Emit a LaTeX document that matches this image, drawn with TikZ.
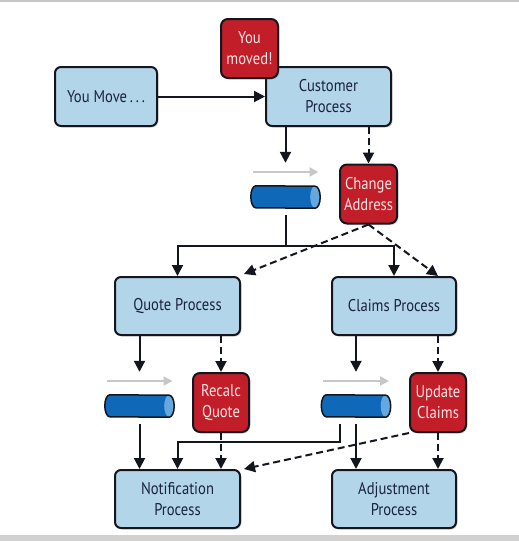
\documentclass[tikz,border=0pt]{standalone}
\usepackage{fontspec}
\setmainfont{PT Sans}[FakeStretch=0.86]
\usepackage{tikz}
\usetikzlibrary{shapes.geometric, arrows.meta, shadows}

\definecolor{boxblue}{RGB}{178,213,234}
\definecolor{boxred}{RGB}{194,30,42}
\definecolor{inkline}{RGB}{20,22,30}
\definecolor{textnavy}{RGB}{25,35,60}
\definecolor{textpink}{RGB}{255,228,228}
\definecolor{queueblue}{RGB}{16,104,184}
\definecolor{queueend}{RGB}{100,168,222}

\tikzstyle{process} = [rectangle, rounded corners=6pt, minimum width=125pt, minimum height=59pt, align=center, draw=inkline, line width=2pt, fill=boxblue, text=textnavy, font=\fontsize{17}{21}\selectfont, drop shadow={opacity=0.25, shadow xshift=1.5pt, shadow yshift=-1.5pt}]
\tikzstyle{event} = [rectangle, rounded corners=7pt, minimum width=57pt, minimum height=59pt, inner sep=1pt, align=center, draw=inkline, line width=2pt, fill=boxred, text=textpink, font=\fontsize{17}{21}\selectfont, drop shadow={opacity=0.25, shadow xshift=1.5pt, shadow yshift=-1.5pt}]
\tikzstyle{queue} = [rectangle, minimum width=69pt, minimum height=22pt, inner sep=0pt]
\tikzstyle{arrow} = [line width=2pt, draw=inkline, ->, >={Triangle[length=11pt,width=11pt]}]
\tikzstyle{dasharrow} = [arrow, dash pattern=on 7pt off 4pt]
\tikzstyle{flowarrow} = [line width=2pt, draw=black!22, ->, >={Triangle[length=9pt,width=9pt]}]

% queue body with an elliptical end cap
\newcommand{\drawqueue}[1]{%
  \fill[queueblue] ([xshift=5pt]#1.north west) arc (90:270:5pt and 11pt) -- ([xshift=-5pt]#1.south east) arc (-90:90:5pt and 11pt) -- cycle;
  \fill[queueend] ([xshift=-5pt]#1.east) ellipse (5pt and 11pt);
  \draw[inkline, line width=1.5pt] ([xshift=5pt]#1.north west) arc (90:270:5pt and 11pt) -- ([xshift=-5pt]#1.south east) arc (-90:90:5pt and 11pt) -- cycle;
}

\begin{document}
\begin{tikzpicture}[x=1pt, y=-1pt]
\useasboundingbox (0,0) rectangle (519,541);
\fill[black!22] (0,0) rectangle (519,2);
\fill[black!18] (0,535) rectangle (519,541);

\node (youmove) [process, minimum width=102pt] at (106,96.5) {You Move\,.\,.\,.};
\node (customer) [process] at (328.5,96.5) {Customer\\Process};
\node (youmoved) [event] at (249.5,48.5) {You\\moved!};
\node (change) [event] at (368.5,194) {Change\\Address};
\node (q0) [queue] at (285.5,197) {};

\node (quote) [process, minimum height=58pt] at (177.5,306) {Quote Process};
\node (claims) [process, minimum width=124pt, minimum height=58pt] at (394,306) {Claims Process};
\node (recalc) [event, minimum width=56pt] at (221,402.5) {Recalc\\Quote};
\node (update) [event, minimum width=56pt] at (438,402.5) {Update\\Claims};
\node (q1) [queue] at (139.5,406) {};
\node (q2) [queue] at (356,406) {};

\node (notif) [process, minimum height=58pt] at (177.5,499) {Notification\\Process};
\node (adjust) [process, minimum width=124pt, minimum height=58pt] at (394,499) {Adjustment\\Process};

\drawqueue{q0}
\drawqueue{q1}
\drawqueue{q2}

\coordinate (split0) at (285.5,246);

% top row
\draw [arrow] (youmove) -- (customer);
\draw [arrow] (customer.south -| q0) -- ([yshift=23pt]q0.north);
\draw [dasharrow] (customer.south -| change) -- (change.north);
\draw [flowarrow] ([xshift=-33pt,yshift=25pt]q0.center) -- ([xshift=33pt,yshift=25pt]q0.center);

% fan out
\draw [line width=2pt, draw=inkline] ([yshift=-7pt]q0.south) -- (split0);
\draw [arrow] (split0) -| (quote.north);
\draw [arrow] (split0) -| (claims.north);
\draw [dasharrow] (change.south) -- ([xshift=3pt,yshift=2pt]quote.north east);
\draw [dasharrow] (change.south) -- ([xshift=-19pt]claims.north east);

% quote side
\draw [arrow] (quote.south -| q1) -- ([yshift=23pt]q1.north);
\draw [dasharrow] (quote.south -| recalc) -- (recalc.north);
\draw [flowarrow] ([xshift=-33pt,yshift=25pt]q1.center) -- ([xshift=33pt,yshift=25pt]q1.center);
\draw [arrow] ([yshift=-7pt]q1.south) -- (notif.north -| q1);
\draw [dasharrow] (recalc.south) -- (notif.north -| recalc);

% claims side
\draw [arrow] (claims.south -| q2) -- ([yshift=23pt]q2.north);
\draw [dasharrow] (claims.south -| update) -- (update.north);
\draw [flowarrow] ([xshift=-33pt,yshift=25pt]q2.center) -- ([xshift=33pt,yshift=25pt]q2.center);
\draw [arrow] ([xshift=-16pt,yshift=-7pt]q2.south) |- ([yshift=27pt]notif.north) -- (notif.north);
\draw [arrow] ([yshift=-7pt]q2.south) -- (adjust.north -| q2);
\draw [dasharrow] (update.south west) -- ([xshift=3pt]notif.north east);
\draw [dasharrow] (update.south) -- (adjust.north -| update);
\end{tikzpicture}
\end{document}
